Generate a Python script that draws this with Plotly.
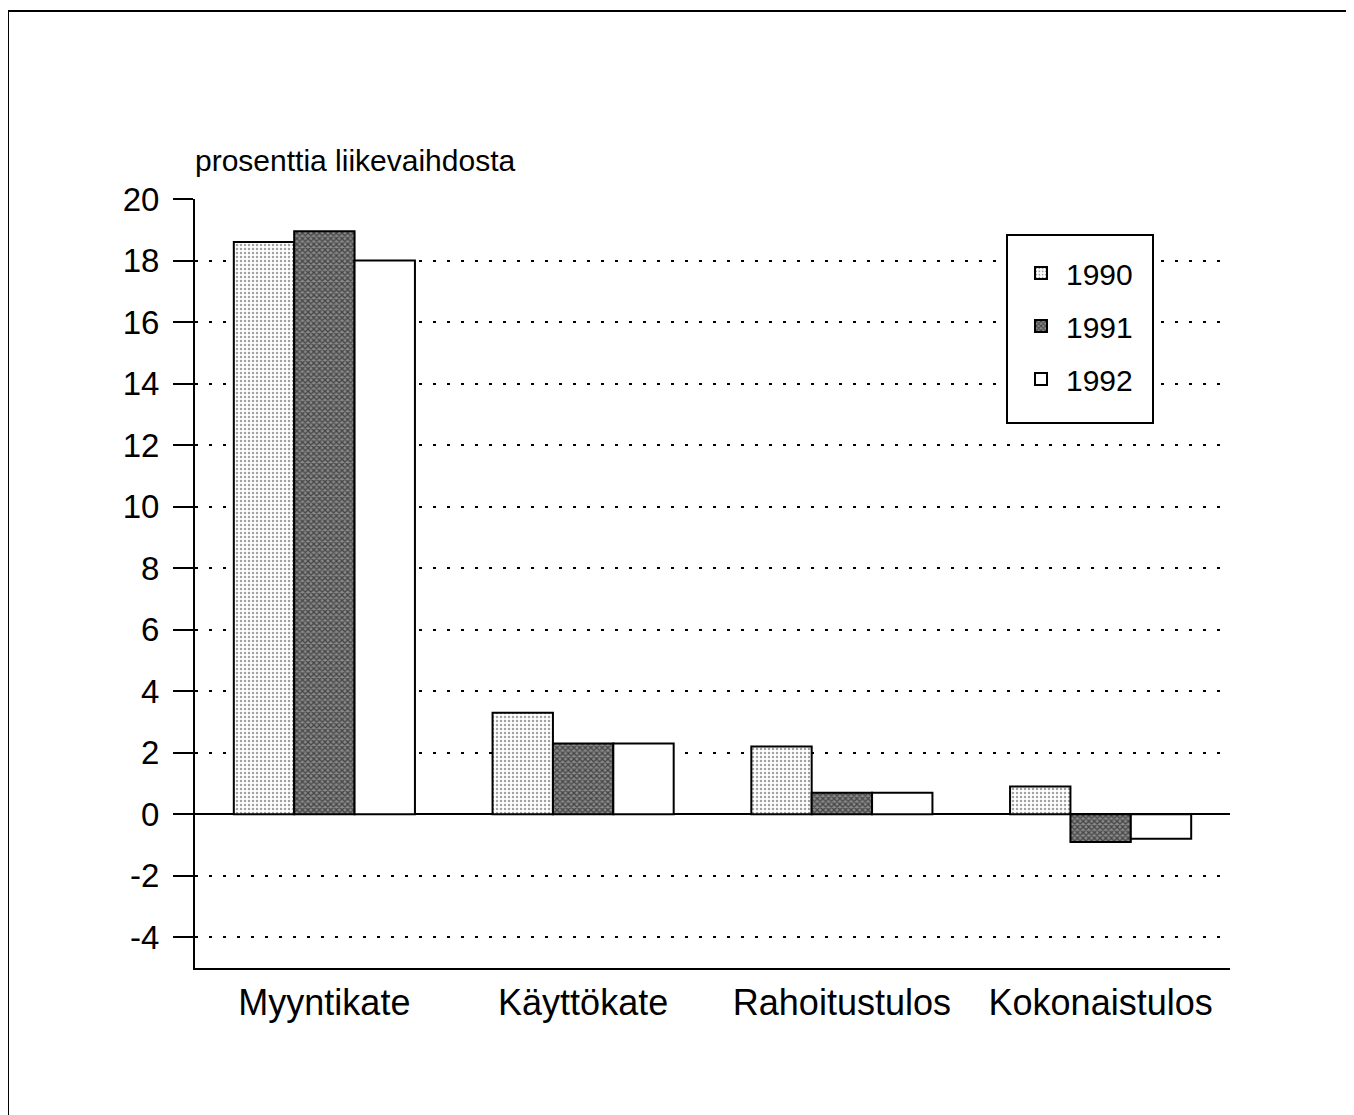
import plotly.graph_objects as go

categories = ["Myyntikate", "Käyttökate", "Rahoitustulos", "Kokonaistulos"]
years = ["1990", "1991", "1992"]
v1990 = [18.6, 3.3, 2.2, 0.9]
v1991 = [18.95, 2.3, 0.7, -0.9]
v1992 = [18.0, 2.3, 0.7, -0.8]
tick_vals = [-4, -2, 0, 2, 4, 6, 8, 10, 12, 14, 16, 18, 20]
tick_text = ["-4", "-2", "0", "2", "4", "6", "8", "10", "12", "14", "16", "18", "20"]
y_title = "prosenttia liikevaihdosta"

FONT = "Liberation Sans, Arial, Helvetica, sans-serif"

patterns = [
    dict(shape=".", fgcolor="#444444", bgcolor="white", size=4, solidity=0.3),
    dict(shape="x", fgcolor="black", bgcolor="#8a8a8a", size=4, solidity=0.55),
    dict(shape="", bgcolor="white"),
]
values = [v1990, v1991, v1992]

fig = go.Figure()
for name, vals, pat in zip(years, values, patterns):
    fig.add_trace(go.Bar(
        x=categories, y=vals, name=name, legendgroup=name,
        marker=dict(color="white", pattern=pat, line=dict(color="black", width=2)),
    ))

# page has an 8px body margin; work in reference pixel coords shifted by it
OFF = 8
W, H = 1354 - OFF, 1115 - OFF
L, R, T, B = 195 - OFF, 124, 199 - OFF, 147
pw, ph = W - L - R, H - T - B

def px(x):
    return (x - OFF - L) / pw

def py(y):
    return (H - B - (y - OFF)) / ph

fig.update_layout(
    width=W, height=H,
    margin=dict(l=L, r=R, t=T, b=B, pad=0),
    paper_bgcolor="white", plot_bgcolor="white",
    barmode="group", bargap=0.3, bargroupgap=0,
    font=dict(family=FONT, color="black"),
    showlegend=True,
    legend=dict(
        x=px(1016), y=py(247), xanchor="left", yanchor="top",
        borderwidth=0, bgcolor="rgba(0,0,0,0)",
        font=dict(size=30, family=FONT), tracegroupgap=11,
        itemwidth=40,
    ),
    xaxis=dict(
        showline=True, linecolor="black", linewidth=2,
        ticks="", tickfont=dict(size=36, family=FONT),
        ticklabelstandoff=2, showgrid=False,
    ),
    yaxis=dict(
        range=[-5, 20], tickvals=tick_vals, ticktext=tick_text,
        showline=True, linecolor="black", linewidth=2,
        ticks="outside", ticklen=20, tickwidth=2, tickcolor="black",
        tickfont=dict(size=33, family=FONT), ticklabelstandoff=7,
        showgrid=True, gridcolor="black", gridwidth=2, griddash="3px,11px",
        zeroline=True, zerolinecolor="black", zerolinewidth=2,
    ),
    annotations=[dict(
        text=y_title, xref="paper", yref="paper", x=px(193), y=py(160),
        xanchor="left", yanchor="middle", showarrow=False,
        font=dict(size=30, family=FONT, color="black"),
    )],
    shapes=[
        dict(
            type="path", xref="paper", yref="paper",
            path=f"M {px(8)},{py(1200)} L {px(8)},{py(11)} L {px(1400)},{py(11)}",
            line=dict(color="black", width=2),
        ),
        dict(
            type="rect", xref="paper", yref="paper", layer="above",
            x0=px(1007), x1=px(1153), y0=py(423), y1=py(235),
            fillcolor="white", line=dict(color="black", width=2),
        ),
    ],
)

fig.write_html("out.html")
